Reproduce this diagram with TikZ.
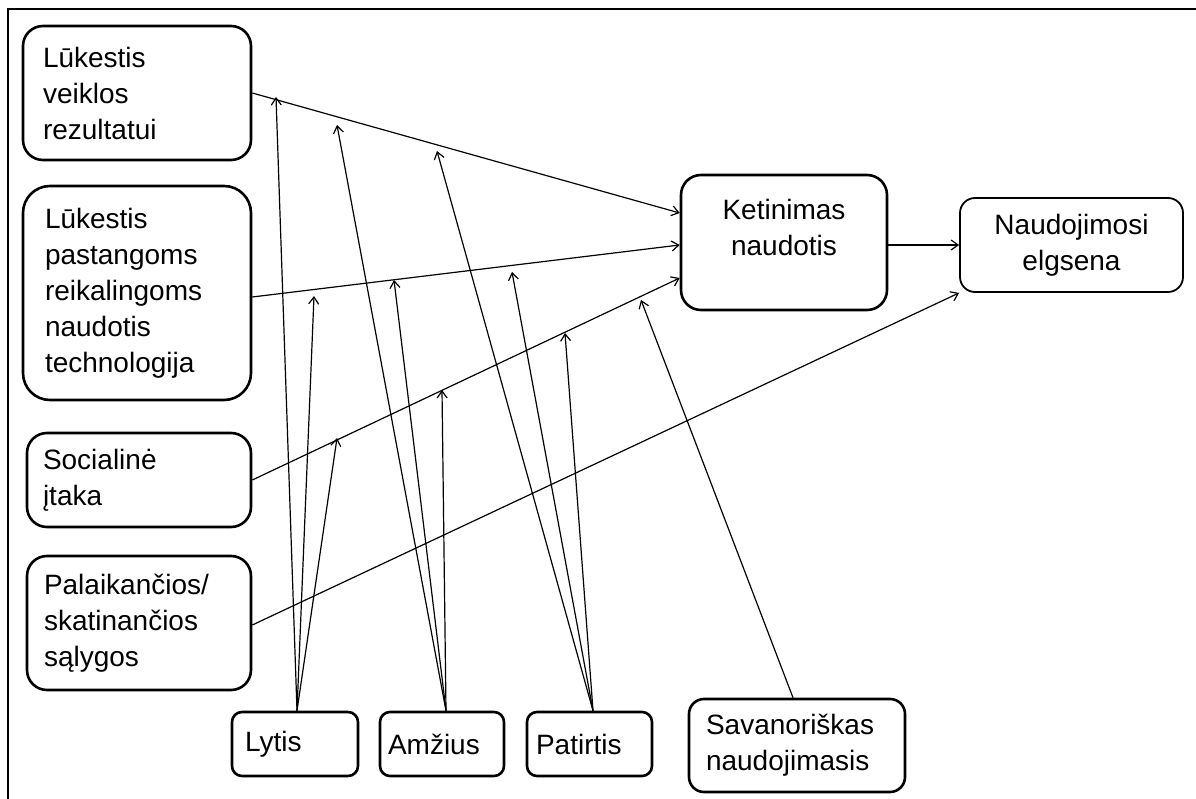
\documentclass[tikz,border=0pt]{standalone}
\usepackage{fontspec}
\setmainfont{Liberation Sans}
\usetikzlibrary{arrows.meta}
\begin{document}
\begin{tikzpicture}[x=1pt,y=-1pt,
  every node/.style={font=\fontsize{28}{36}\selectfont, anchor=center},
  factor/.style={draw, line width=2.6pt, rounded corners=20pt, inner ysep=0pt, align=left},
  core/.style={draw, line width=2.6pt, rounded corners=20pt, inner sep=0pt},
  outcome/.style={draw, line width=1.8pt, rounded corners=15pt, inner xsep=0pt, inner ysep=0pt, align=center},
  moder/.style={draw, line width=2.6pt, rounded corners=10pt, inner ysep=0pt, align=left},
  conn/.style={line width=1.2pt, -{Straight Barb[length=7pt,width=10pt,line width=1.2pt]}},
  frame/.style={line width=1.5pt}]
\useasboundingbox (0,0) rectangle (1196,799);

% outer frame (only its top and left sides fall on the page)
\draw[frame] (8,810) -- (8,9) -- (1210,9);

% determinants on the left
\node[factor, inner xsep=20pt, text width=188pt, minimum height=134pt] (b1) at (137,93)
  {Lūkestis\\veiklos\\rezultatui};
\node[factor, rounded corners=27pt, inner xsep=22pt, text width=184pt, minimum height=214pt] (b2) at (137,293)
  {Lūkestis\\pastangoms\\reikalingoms\\naudotis\\technologija};
\node[factor, inner xsep=16pt, text width=192pt, minimum height=94pt] (b3) at (139,480)
  {Socialinė\\įtaka};
\node[factor, inner xsep=17pt, text width=190pt, minimum height=134pt] (b4) at (139,623)
  {Palaikančios/\\skatinančios\\sąlygos};

% intention and behaviour
\node[core] (ket) at (784,242.5)
  {\parbox[c][135pt][c]{206pt}{\centering Ketinimas\\naudotis\par\vspace{30pt}}};
\node[outcome, text width=223pt, minimum height=94pt] (nau) at (1071.5,245)
  {Naudojimosi\\elgsena};

% moderators at the bottom
\node[moder, inner xsep=13pt, text width=100pt, minimum height=64pt] (lyt) at (295,744) {Lytis};
\node[moder, inner xsep=8pt, text width=108pt, minimum height=64pt] (amz) at (442,744) {Amžius};
\node[moder, inner xsep=9pt, text width=107pt, minimum height=64pt] (pat) at (589.5,744) {Patirtis};
\node[moder, rounded corners=15pt, inner xsep=17pt, text width=182pt, minimum height=93pt] (sav) at (797,745.5)
  {Savanoriškas\\naudojimasis};

% main paths
\draw[conn] (b1.east) -- ([yshift=29.5pt]ket.west);
\draw[conn] ([yshift=-4pt]b2.east) -- ([yshift=-2.5pt]ket.west);
\draw[conn] (b3.east) -- ([yshift=-35.5pt]ket.west);
\draw[conn] ([yshift=-2pt]b4.east) -- (nau.south west);
\draw[conn] (ket.east |- nau.west) -- (nau.west);

% points where the moderators act on the paths
\coordinate (l1) at (276,97);
\coordinate (l2) at (314,296);
\coordinate (l3) at (337,438);
\coordinate (a1) at (337,125);
\coordinate (a2) at (394,280);
\coordinate (a3) at (442,390);
\coordinate (p1) at (437,151);
\coordinate (p2) at (512,272);
\coordinate (p3) at (565,333);
\coordinate (s1) at (641,300);

% moderating arrows
\foreach \t in {l1,l2,l3} \draw[conn] ([xshift=2pt]lyt.north) -- (\t);
\foreach \t in {a1,a2,a3} \draw[conn] ([xshift=4pt]amz.north) -- (\t);
\foreach \t in {p1,p2,p3} \draw[conn] ([xshift=3.5pt]pat.north) -- (\t);
\draw[conn] ([xshift=-4pt]sav.north) -- (s1);
\end{tikzpicture}
\end{document}
